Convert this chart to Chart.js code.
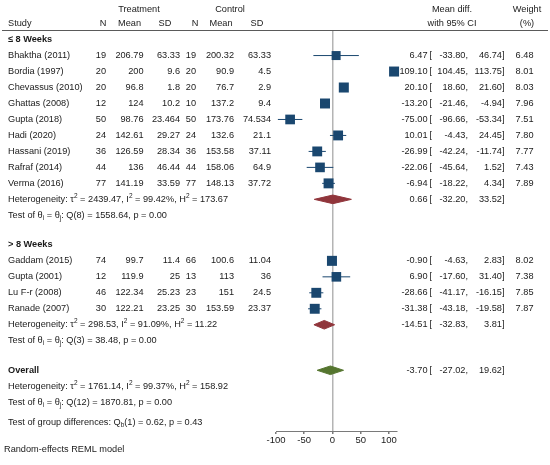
<!DOCTYPE html>
<html>
<head>
<meta charset="utf-8">
<script src="https://cdn.jsdelivr.net/npm/chart.js@4.4.0/dist/chart.umd.min.js"></script>
<style>
  html, body { margin: 0; padding: 0; background: #fff; }
  #wrap { width: 550px; height: 465px; }
</style>
</head>
<body>
<div id="wrap"><canvas id="forest" width="550" height="465"></canvas></div>
<script>
// studies (treatment / control summary + effect)
const studies = ["Bhaktha (2011)", "Bordia (1997)", "Chevassus (2010)", "Ghattas (2008)", "Gupta (2018)",
  "Hadi (2020)", "Hassani (2019)", "Rafraf (2014)", "Verma (2016)",
  "Gaddam (2015)", "Gupta (2001)", "Lu F-r (2008)", "Ranade (2007)"]
const group = [1, 1, 1, 1, 1, 1, 1, 1, 1, 2, 2, 2, 2]
const trtN = [19, 20, 20, 12, 50, 24, 36, 44, 77, 74, 12, 46, 30]
const trtMean = [206.79, 200, 96.8, 124, 98.76, 142.61, 126.59, 136, 141.19, 99.7, 119.9, 122.34, 122.21]
const trtSD = [63.33, 9.6, 1.8, 10.2, 23.464, 29.27, 28.34, 46.44, 33.59, 11.4, 25, 25.23, 23.25]
const ctlN = [19, 20, 20, 10, 50, 24, 36, 44, 77, 66, 13, 23, 30]
const ctlMean = [200.32, 90.9, 76.7, 137.2, 173.76, 132.6, 153.58, 158.06, 148.13, 100.6, 113, 151, 153.59]
const ctlSD = [63.33, 4.5, 2.9, 9.4, 74.534, 21.1, 37.11, 64.9, 37.72, 11.04, 36, 24.5, 23.37]
const meanDiff = [6.47, 109.10, 20.10, -13.20, -75.00, 10.01, -26.99, -22.06, -6.94, -0.90, 6.90, -28.66, -31.38]
const ciLow = [-33.80, 104.45, 18.60, -21.46, -96.66, -4.43, -42.24, -45.64, -18.22, -4.63, -17.60, -41.17, -43.18]
const ciHigh = [46.74, 113.75, 21.60, -4.94, -53.34, 24.45, -11.74, 1.52, 4.34, 2.83, 31.40, -16.15, -19.58]
const weight = [6.48, 8.01, 8.03, 7.96, 7.51, 7.80, 7.77, 7.43, 7.89, 8.02, 7.38, 7.85, 7.87]

// pooled results: [group 1, group 2, overall]
const groupNames = ["≤ 8 Weeks", "> 8 Weeks"]
const pooledMd = [0.66, -14.51, -3.70]
const pooledLow = [-32.20, -32.83, -27.02]
const pooledHigh = [33.52, 3.81, 19.62]
const tau2 = [2439.47, 298.53, 1761.14]
const iSq = [99.42, 91.09, 99.37]
const hSq = [173.67, 11.22, 158.92]
const qDf = [8, 3, 12]
const qStat = [1558.64, 38.48, 1870.81]
const qP = [0.00, 0.00, 0.00]
const qbDf = 1, qbStat = 0.62, qbP = 0.43
const xTicks = [-100, -50, 0, 50, 100]

const NAVY = "#1a476f", MAROON = "#90353b", GREEN = "#55752f", TXT = "#1a1a1a"
const FONT = "Liberation Sans, Arial, sans-serif"

// row layout (1 unit = one text line)
const studyRow = [], headRow = [], hetRow = [], testRow = []
let r = -1
for (let g = 1; g <= 2; g++) {
  headRow.push(r); r += 1
  studies.forEach((s, i) => { if (group[i] === g) { studyRow[i] = r; r += 1 } })
  hetRow.push(r); r += 1
  testRow.push(r); r += 1.85
}
const overallRow = r, overallHetRow = r + 1, overallTestRow = r + 2, qbRow = r + 3.25
const diamondRow = [hetRow[0], hetRow[1], overallRow]
const DH = 0.27 // diamond half height

const datasets = []
studies.forEach((s, i) => {
  datasets.push({
    type: "scatter", showLine: true, clip: false,
    data: [{x: ciLow[i], y: studyRow[i]}, {x: ciHigh[i], y: studyRow[i]}],
    borderColor: NAVY, borderWidth: 1, pointRadius: 0
  })
})
datasets.push({
  type: "scatter", clip: false,
  data: studies.map((s, i) => ({x: meanDiff[i], y: studyRow[i]})),
  pointStyle: "rect",
  pointRadius: weight.map(w => 2.5 * Math.sqrt(w)),
  backgroundColor: NAVY, borderWidth: 0
})
const dColors = [MAROON, MAROON, GREEN]
pooledMd.forEach((m, k) => {
  const y = diamondRow[k]
  datasets.push({
    type: "line", clip: false, tension: 0,
    data: [{x: pooledLow[k], y: y}, {x: m, y: y - DH}, {x: pooledHigh[k], y: y}, {x: m, y: y + DH}, {x: pooledLow[k], y: y}],
    borderColor: dColors[k], backgroundColor: dColors[k], borderWidth: 1, pointRadius: 0, fill: "shape"
  })
})

function f2(v) { return v.toFixed(2) }

// draw text with sub/superscripts, left aligned
function rich(ctx, x, y, parts) {
  parts.forEach(p => {
    if (p[1]) {
      ctx.font = "6.5px " + FONT
      ctx.fillText(p[0], x, y + (p[1] === "sup" ? -3.5 : 2.5))
    } else {
      ctx.font = "9.2px " + FONT
      ctx.fillText(p[0], x, y)
    }
    x += ctx.measureText(p[0]).width
  })
  ctx.font = "9.2px " + FONT
}

function hetParts(k) {
  return [["Heterogeneity: τ"], ["2", "sup"], [" = " + f2(tau2[k]) + ", I"], ["2", "sup"],
    [" = " + f2(iSq[k]) + "%, H"], ["2", "sup"], [" = " + f2(hSq[k])]]
}
function testParts(k) {
  return [["Test of θ"], ["i", "sub"], [" = θ"], ["j", "sub"], [": Q(" + qDf[k] + ") = " + f2(qStat[k]) + ", p = " + f2(qP[k])]]
}

const textPlugin = {
  id: "forestText",
  afterDraw(chart) {
    const ctx = chart.ctx
    const ys = chart.scales.y
    const Y = v => ys.getPixelForValue(v)
    ctx.save()
    ctx.fillStyle = TXT
    ctx.textBaseline = "middle"
    ctx.font = "9.2px " + FONT

    const put = (t, x, y, align) => { ctx.textAlign = align; ctx.fillText(t, x, y) }
    // header
    put("Treatment", 139, 9.5, "center")
    put("Control", 230, 9.5, "center")
    put("Mean diff.", 452, 9.5, "center")
    put("Weight", 527, 9.5, "center")
    put("Study", 8, 23, "left")
    put("N", 103, 23, "center"); put("Mean", 129.5, 23, "center"); put("SD", 165, 23, "center")
    put("N", 195, 23, "center"); put("Mean", 221, 23, "center"); put("SD", 257, 23, "center")
    put("with 95% CI", 452, 23, "center")
    put("(%)", 527, 23, "center")
    ctx.strokeStyle = "#5a5a5a"; ctx.lineWidth = 1
    ctx.beginPath(); ctx.moveTo(2, 30.5); ctx.lineTo(548, 30.5); ctx.stroke()

    const effect = (m, lo, hi, y) => {
      put(f2(m), 427.5, y, "right")
      put("[", 429.5, y, "left")
      put(f2(lo) + ",", 468, y, "right")
      put(f2(hi) + "]", 504.5, y, "right")
    }

    // studies
    studies.forEach((s, i) => {
      const y = Y(studyRow[i])
      put(s, 8, y, "left")
      put(String(trtN[i]), 106, y, "right")
      put(String(trtMean[i]), 143.5, y, "right")
      put(String(trtSD[i]), 180, y, "right")
      put(String(ctlN[i]), 196, y, "right")
      put(String(ctlMean[i]), 234, y, "right")
      put(String(ctlSD[i]), 271, y, "right")
      effect(meanDiff[i], ciLow[i], ciHigh[i], y)
      put(f2(weight[i]), 533.5, y, "right")
    })

    // group headers and summaries
    for (let k = 0; k < 2; k++) {
      ctx.font = "bold 9.2px " + FONT
      put(groupNames[k], 8, Y(headRow[k]), "left")
      ctx.font = "9.2px " + FONT
      ctx.textAlign = "left"
      rich(ctx, 8, Y(hetRow[k]), hetParts(k))
      rich(ctx, 8, Y(testRow[k]), testParts(k))
      effect(pooledMd[k], pooledLow[k], pooledHigh[k], Y(hetRow[k]))
    }
    ctx.font = "bold 9.2px " + FONT
    put("Overall", 8, Y(overallRow), "left")
    ctx.font = "9.2px " + FONT
    effect(pooledMd[2], pooledLow[2], pooledHigh[2], Y(overallRow))
    ctx.textAlign = "left"
    rich(ctx, 8, Y(overallHetRow), hetParts(2))
    rich(ctx, 8, Y(overallTestRow), testParts(2))
    rich(ctx, 8, Y(qbRow), [["Test of group differences: Q"], ["b", "sub"], ["(" + qbDf + ") = " + f2(qbStat) + ", p = " + f2(qbP)]])

    put("Random-effects REML model", 4, 449, "left")
    ctx.restore()
  }
}

new Chart(document.getElementById("forest"), {
  type: "scatter",
  data: { datasets },
  options: {
    responsive: false,
    animation: false,
    layout: { padding: { left: 276, right: 153.3, top: 30, bottom: 12 } },
    plugins: { legend: { display: false }, tooltip: { enabled: false } },
    scales: {
      x: {
        type: "linear", min: -100, max: 113.75,
        afterBuildTicks: s => { s.ticks = xTicks.map(v => ({value: v})) },
        afterFit: s => { s.height = 22 },
        grid: {
          color: c => (c.tick && c.tick.value === 0) ? "#b4b4b4" : "rgba(0,0,0,0)",
          lineWidth: 1.5, tickColor: "#7a7a7a", tickLength: 3
        },
        border: { display: true, color: "#7a7a7a", width: 1 },
        ticks: { color: TXT, padding: 1, maxRotation: 0, font: { family: FONT, size: 9.5 } }
      },
      y: { type: "linear", display: false, reverse: true, min: -1.6, max: 23.5 }
    }
  },
  plugins: [textPlugin]
})
</script>
</body>
</html>
